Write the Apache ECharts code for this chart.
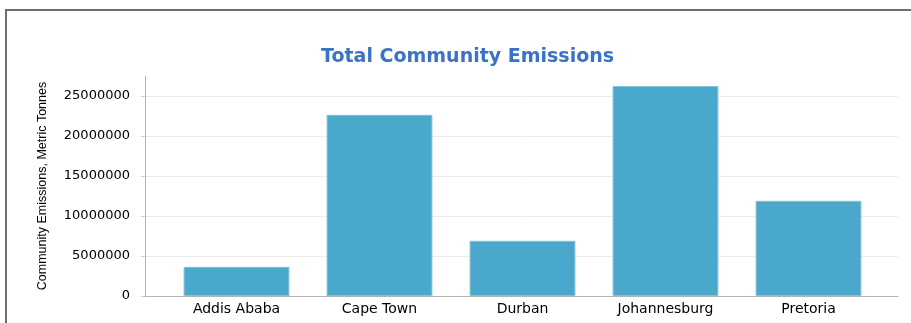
<!DOCTYPE html>
<html>
<head>
<meta charset="utf-8">
<script src="https://cdn.jsdelivr.net/npm/echarts@6/dist/echarts.min.js"></script>
<style>
  html, body { margin: 0; padding: 0; background: #ffffff; }
  #frame { position: absolute; left: 5px; top: 9px; width: 1000px; height: 400px; border: 2px solid #6f6f6f; box-sizing: border-box; }
  #chart { position: absolute; left: 0; top: 0; width: 911px; height: 323px; }
</style>
</head>
<body>
<div id="frame"></div>
<div id="chart"></div>
<script>
const categories = ['Addis Ababa', 'Cape Town', 'Durban', 'Johannesburg', 'Pretoria'];
const emissions = [3650000, 22650000, 6900000, 26250000, 11900000];
const yTickMax = 25000000;
const yTickStep = 5000000;
const yAxisTop = 27500000;

const chart = echarts.init(document.getElementById('chart'));
const labelFont = 'DejaVu Sans';
const axisGray = '#b4b4b4';

chart.setOption({
  animation: false,
  title: {
    text: 'Total Community Emissions',
    left: 316,
    top: 43,
    textStyle: { fontFamily: labelFont, fontWeight: 'bold', fontSize: 19, color: '#3a72c8' }
  },
  grid: [
    { left: 145, right: 13, top: 76, bottom: 27 },
    { left: 145, right: 13, top: 96, bottom: 27 },
    { left: 165, right: 31, top: 76, bottom: 27 }
  ],
  xAxis: [
    { type: 'category', gridIndex: 0, data: categories, axisLine: { lineStyle: { color: axisGray, width: 1 } }, axisTick: { show: false }, axisLabel: { show: false } },
    { type: 'category', gridIndex: 1, data: categories, show: false },
    { type: 'category', gridIndex: 2, data: categories, axisLine: { show: false }, axisTick: { show: false },
      axisLabel: { fontFamily: labelFont, fontSize: 14, color: '#000000', margin: 6 } }
  ],
  yAxis: [
    { type: 'value', gridIndex: 0, min: 0, max: yAxisTop,
      name: 'Community Emissions, Metric Tonnes', nameLocation: 'middle', nameGap: 96,
      nameTextStyle: { fontFamily: 'Liberation Sans', fontSize: 12.5, color: '#000000' },
      axisLine: { show: true, lineStyle: { color: axisGray, width: 1 } }, axisTick: { show: false },
      axisLabel: { show: false }, splitLine: { show: false } },
    { type: 'value', gridIndex: 1, min: 0, max: yTickMax, interval: yTickStep,
      axisLine: { show: false },
      axisTick: { show: true, length: 4, lineStyle: { color: '#cfcfcf' } },
      axisLabel: { fontFamily: labelFont, fontSize: 13, color: '#000000', margin: 15, formatter: v => String(v) },
      splitLine: { show: true, showMinLine: false, lineStyle: { color: '#ececec', width: 1 } } },
    { type: 'value', gridIndex: 2, min: 0, max: yAxisTop, show: false, splitLine: { show: false } }
  ],
  series: [{
    type: 'bar',
    xAxisIndex: 2,
    yAxisIndex: 2,
    data: emissions,
    barWidth: '74%',
    itemStyle: { color: '#4aa8cc', borderColor: '#86c1da', borderWidth: 1 }
  }]
});
</script>
</body>
</html>
